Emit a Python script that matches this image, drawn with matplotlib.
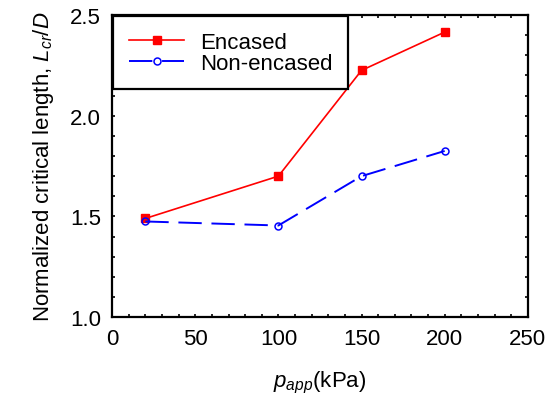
import matplotlib
matplotlib.use("Agg")
import matplotlib.pyplot as plt
from matplotlib.ticker import MultipleLocator

plt.rcParams['font.family'] = ['Liberation Sans', 'DejaVu Sans']
plt.rcParams['mathtext.fontset'] = 'custom'
plt.rcParams['mathtext.rm'] = 'Liberation Sans'
plt.rcParams['mathtext.it'] = 'Liberation Sans:italic'

# data
p_app = [20, 100, 150, 200]
encased = [1.49, 1.70, 2.225, 2.415]
non_encased = [1.475, 1.455, 1.70, 1.825]

fig = plt.figure(figsize=(5.55, 4.10), dpi=100)
ax = fig.add_axes([0.202, 0.224, 0.749, 0.737])

ax.plot(p_app, encased, color='red', linewidth=1.2, marker='s', markersize=6,
        markerfacecolor='red', markeredgecolor='red', label='Encased')
ax.plot(p_app, non_encased, color='blue', linewidth=1.4, linestyle=(0, (12, 5)),
        marker='o', markersize=5, markerfacecolor='none', markeredgecolor='blue',
        markeredgewidth=1.1, label='Non-encased')

ax.set_xlim(0, 250)
ax.set_ylim(1.0, 2.5)
ax.xaxis.set_major_locator(MultipleLocator(50))
ax.xaxis.set_minor_locator(MultipleLocator(10))
ax.yaxis.set_major_locator(MultipleLocator(0.5))
ax.yaxis.set_minor_locator(MultipleLocator(0.1))
ax.yaxis.set_major_formatter(plt.FormatStrFormatter('%.1f'))
ax.tick_params(which='both', direction='in', top=True, right=True,
               length=2, width=1.2, labelsize=16, pad=8)
for s in ax.spines.values():
    s.set_linewidth(1.6)

ax.set_xlabel('$p_{app}$(kPa)', fontsize=16, labelpad=14)
ax.set_ylabel('Normalized critical length, $L_{cr}/D$', fontsize=16, labelpad=10)

leg = ax.legend(loc='upper left', fontsize=16, frameon=True, fancybox=False,
                edgecolor='black', handlelength=2.5, borderaxespad=0.05,
                borderpad=0.7, labelspacing=0.0, handletextpad=0.7)
leg.get_frame().set_linewidth(1.6)
leg.get_frame().set_alpha(1)

fig.savefig('out.png', dpi=100)
